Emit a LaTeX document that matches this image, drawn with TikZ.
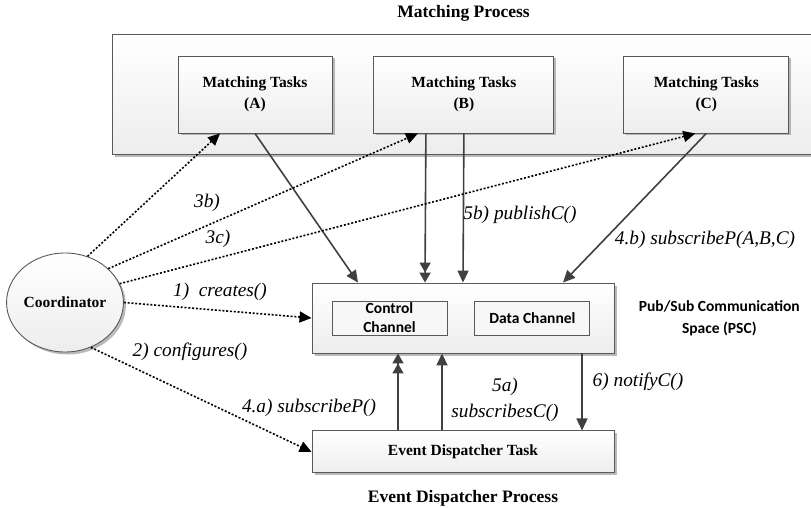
\documentclass[tikz,border=0pt]{standalone}
\usepackage{fontspec}
\setmainfont{Liberation Serif}
\newfontfamily\calibfont{Carlito}
\usetikzlibrary{arrows.meta,positioning,shadows,shapes.geometric}

\begin{document}
\begin{tikzpicture}[x=1pt,y=-1pt,>={Triangle[length=12pt,width=11pt]},
  box/.style={draw=black!65,line width=0.9pt,top color=white,bottom color=black!7,drop shadow={shadow xshift=2.5pt,shadow yshift=-2.5pt,fill=black!45,opacity=0.6},align=center,font=\fontsize{15.5}{21.5}\selectfont\bfseries,inner sep=0pt},
  chan/.style={draw=black!65,line width=0.9pt,fill=black!3,align=center,font=\fontsize{15.5}{19}\selectfont\calibfont\bfseries,inner sep=0pt,minimum width=115pt,minimum height=34pt},
  title/.style={font=\fontsize{17.5}{21}\selectfont\bfseries,inner sep=0pt},
  lbl/.style={font=\fontsize{19.3}{26}\selectfont\itshape,align=center,inner sep=0pt},
  flow/.style={->,line width=1.6pt,draw=black!75},
  twin/.style={-{Triangle[length=10pt,width=11pt]Triangle[length=10pt,width=11pt]}},
  call/.style={->,line width=1.6pt,dash pattern=on 2pt off 1.8pt}]
  \useasboundingbox (0,0) rectangle (811,508);
  \node[box,minimum width=703pt,minimum height=120pt] (proc) at (463.5,94) {};
  \node[title,above=12pt of proc] (proctitle) {Matching Process};
  \node[box,minimum width=154pt,minimum height=77pt] (taskA) at (255,94.5) {Matching Tasks\\(A)\rule[-4pt]{0pt}{4pt}};
  \node[box,minimum width=180pt,minimum height=77pt,right=41pt of taskA] (taskB) {Matching Tasks\\(B)\rule[-4pt]{0pt}{4pt}};
  \node[box,minimum width=165pt,minimum height=77pt,right=69pt of taskB] (taskC) {Matching Tasks\\(C)\rule[-4pt]{0pt}{4pt}};
  \node[box,ellipse,minimum width=116pt,minimum height=99pt] (coord) at (65,302.5) {Coordinator};
  \node[box,minimum width=302pt,minimum height=70pt] (psc) at (463,318) {};
  \node[chan,right=20pt of psc.west] (ctrl) {Control\\Channel};
  \node[chan,right=27pt of ctrl] (data) {Data Channel};
  \node[chan,draw=none,fill=none,font=\fontsize{15.5}{22}\selectfont\calibfont\bfseries,right=24pt of psc] (psclbl) {Pub/Sub Communication\\Space (PSC)};
  \node[box,minimum width=302pt,minimum height=42pt,below=77pt of psc] (edt) {Event Dispatcher Task};
  \node[title,below=17pt of edt] (edttitle) {Event Dispatcher Process};
  \draw[flow](taskA.south)--([xshift=-105pt]psc.north);
  \draw[flow,twin]([xshift=-38pt]taskB.south)--([xshift=-38pt]psc.north);
  \draw[flow](taskB.south)--(psc.north);
  \draw[flow](taskC.south)--([xshift=100pt]psc.north);
  \draw[call](coord.64)--([xshift=-35pt]taskA.south);
  \draw[call](coord.38)--([xshift=-46pt]taskB.south);
  \draw[call](coord.19)--([xshift=-11pt]taskC.south);
  \draw[call](coord.east)--(psc.west);
  \draw[call](coord.-60)--(edt.west);
  \draw[flow,twin]([xshift=-65pt]edt.north)--([xshift=-65pt]psc.south);
  \draw[flow]([xshift=-21pt]edt.north)--([xshift=-21pt]psc.south);
  \draw[flow]([xshift=119pt]psc.south)--([xshift=119pt]edt.north);
  \node[lbl] (l3b) at (207,203) {3b)};
  \node[lbl] (l3c) at (218,239) {3c)};
  \node[lbl] (l1) at (220,292) {1)\ \ creates()};
  \node[lbl] (l2) at (190,352) {2) configures()};
  \node[lbl] (l4a) at (309,408) {4.a) subscribeP()};
  \node[lbl] (l5b) at (520,215) {5b) publishC()};
  \node[lbl] (l4b) at (705,240) {4.b) subscribeP(A,B,C)};
  \node[lbl] (l5a) at (505,400) {5a)\\subscribesC()};
  \node[lbl] (l6) at (638,382) {6) notifyC()};
\end{tikzpicture}
\end{document}
